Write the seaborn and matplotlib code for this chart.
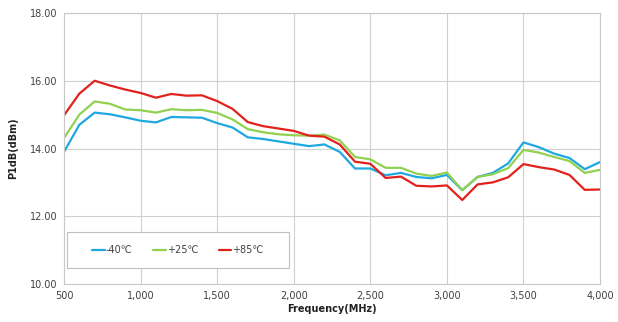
import numpy as np
import pandas as pd
import seaborn as sns
import matplotlib
matplotlib.use("Agg")
import matplotlib.pyplot as plt
from matplotlib.ticker import FuncFormatter
from matplotlib.patches import Rectangle

freq = list(range(500, 4001, 100))
m40 = [13.90, 14.70, 15.06, 15.01, 14.92, 14.82, 14.77, 14.93, 14.92, 14.91,
       14.75, 14.62, 14.33, 14.28, 14.21, 14.14, 14.07, 14.12, 13.90, 13.41,
       13.41, 13.21, 13.28, 13.16, 13.12, 13.22, 12.77, 13.16, 13.28, 13.56,
       14.18, 14.04, 13.85, 13.72, 13.39, 13.60]
p25 = [14.31, 15.00, 15.39, 15.32, 15.15, 15.13, 15.06, 15.16, 15.13, 15.14,
       15.05, 14.86, 14.57, 14.48, 14.42, 14.39, 14.38, 14.41, 14.24, 13.75,
       13.68, 13.43, 13.43, 13.26, 13.19, 13.29, 12.77, 13.16, 13.24, 13.42,
       13.96, 13.88, 13.75, 13.63, 13.28, 13.37]
p85 = [14.98, 15.62, 16.00, 15.86, 15.74, 15.64, 15.50, 15.61, 15.56, 15.57,
       15.40, 15.17, 14.78, 14.66, 14.59, 14.52, 14.38, 14.35, 14.12, 13.61,
       13.55, 13.13, 13.17, 12.90, 12.88, 12.91, 12.48, 12.94, 13.00, 13.15,
       13.54, 13.45, 13.38, 13.22, 12.78, 12.79]
series_names = ["-40\u2103", "+25\u2103", "+85\u2103"]
colors = ["#1fa8e0", "#92d050", "#e3211c"]

df = pd.concat([
    pd.DataFrame({"Frequency(MHz)": freq, "P1dB(dBm)": v, "Temp": n})
    for v, n in zip([m40, p25, p85], series_names)
])

sns.set_theme(style="white")
plt.rcParams['font.family'] = ['DejaVu Sans', 'Noto Sans CJK SC']

fig = plt.figure(figsize=(6.18, 3.22), dpi=100)
ax = fig.add_axes([0.1036, 0.118, 0.8674, 0.8416])

sns.lineplot(data=df, x="Frequency(MHz)", y="P1dB(dBm)", hue="Temp",
             palette=colors, hue_order=series_names, linewidth=1.6, ax=ax)

ax.set_xlim(500, 4000)
ax.set_ylim(10, 18)
ax.set_xticks(range(500, 4001, 500))
ax.set_yticks(np.arange(10, 18.01, 2))
ax.xaxis.set_major_formatter(FuncFormatter(lambda v, p: f"{int(v):,}"))
ax.yaxis.set_major_formatter(FuncFormatter(lambda v, p: f"{v:.2f}"))
ax.grid(True, color="#d0d0d0", linewidth=0.8)
ax.set_axisbelow(True)
for s in ax.spines.values():
    s.set_color("#c8c8c8")
    s.set_linewidth(0.8)
ax.tick_params(axis="both", labelsize=7, colors="#404040", length=0, pad=5)
ax.set_xlabel("Frequency(MHz)", fontsize=7, fontweight="bold", color="#222222", labelpad=2)
ax.set_ylabel("P1dB(dBm)", fontsize=7, fontweight="bold", color="#222222", labelpad=8)

# legend frame box
box = Rectangle((0.0056, 0.059), 0.414, 0.133, transform=ax.transAxes,
                facecolor="white", edgecolor="#bfbfbf", linewidth=0.8, zorder=4)
ax.add_patch(box)
leg = ax.legend(loc="center", bbox_to_anchor=(0.2126, 0.1255),
                ncol=3, frameon=False, fontsize=7, handlelength=1.3,
                handletextpad=0.1, columnspacing=2.1)
leg.set_zorder(5)
for t in leg.get_texts():
    t.set_color("#404040")

fig.savefig("out.png", dpi=100)
